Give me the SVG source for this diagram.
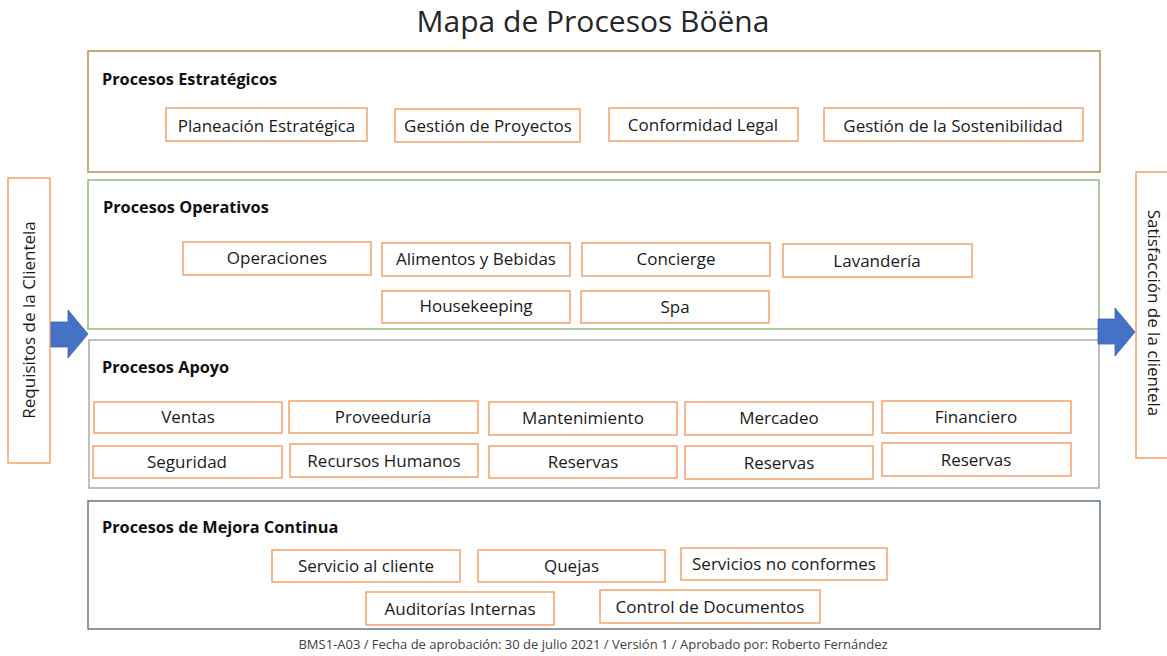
<svg xmlns="http://www.w3.org/2000/svg" width="1167" height="656" viewBox="0 0 1167 656">
<style>
  text { font-family: "Open Sans", "Noto Sans", "Liberation Sans", sans-serif; fill: #1a1a1a; }
  .title { font-size: 30px; text-anchor: middle; fill: #262626; }
  .head { font-size: 16.3px; font-weight: bold; fill: #111; }
  .lbl { font-size: 17px; text-anchor: middle; }
  .side { font-size: 17px; text-anchor: middle; }
  .foot { font-size: 13px; text-anchor: middle; fill: #404040; }
  .box { fill: #ffffff; stroke: #F29B5F; stroke-width: 1.4; }
  .sec { fill: #ffffff; stroke-width: 1.4; }
  .arrow { fill: #4472C4; stroke: #3A63AD; stroke-width: 0.8; }
</style>
<rect x="0" y="0" width="1167" height="656" fill="#ffffff"/>
<text class="title" x="593" y="32">Mapa de Procesos Böëna</text>

<g id="sec-estrategicos">
  <rect class="sec" x="88" y="51" width="1012" height="121" stroke="#A68A3E"/>
  <text class="head" x="102" y="85">Procesos Estratégicos</text>
</g>
<g id="sec-operativos">
  <rect class="sec" x="88" y="180" width="1011" height="149" stroke="#8FB471"/>
  <text class="head" x="103" y="213">Procesos Operativos</text>
</g>
<g id="sec-apoyo">
  <rect class="sec" x="89" y="340" width="1010" height="148" stroke="#A6A6A6"/>
  <text class="head" x="102" y="373">Procesos Apoyo</text>
</g>
<g id="sec-mejora">
  <rect class="sec" x="88" y="501" width="1012" height="128" stroke="#5B6B82"/>
  <text class="head" x="102" y="533">Procesos de Mejora Continua</text>
</g>

<g id="requisitos">
  <rect class="box" x="8" y="178" width="42" height="285"/>
  <text class="side" transform="translate(35,320) rotate(-90)">Requisitos de la Clientela</text>
</g>
<g id="satisfaccion">
  <rect class="box" x="1136" y="172" width="40" height="286"/>
  <text class="side" transform="translate(1148,313) rotate(90)">Satisfacción de la clientela</text>
</g>

<g id="connectors">
  <path class="arrow" d="M51,322 L68,322 L68,310 L88,334 L68,358 L68,347 L51,347 Z"/>
  <path class="arrow" d="M1098,319 L1115,319 L1115,308 L1135,332 L1115,356 L1115,344 L1098,344 Z"/>
</g>

<g id="n-planeacion"><rect class="box" x="166" y="108" width="201" height="33"/><text class="lbl" x="266.5" y="132">Planeación Estratégica</text></g>
<g id="n-proyectos"><rect class="box" x="395" y="109" width="185" height="33"/><text class="lbl" x="488" y="132">Gestión de Proyectos</text></g>
<g id="n-conformidad"><rect class="box" x="609" y="108" width="189" height="33"/><text class="lbl" x="703" y="131">Conformidad Legal</text></g>
<g id="n-sostenibilidad"><rect class="box" x="824" y="108" width="259" height="33"/><text class="lbl" x="953" y="132">Gestión de la Sostenibilidad</text></g>

<g id="n-operaciones"><rect class="box" x="183" y="242" width="188" height="33"/><text class="lbl" x="277" y="264">Operaciones</text></g>
<g id="n-alimentos"><rect class="box" x="382" y="243" width="188" height="33"/><text class="lbl" x="476" y="265">Alimentos y Bebidas</text></g>
<g id="n-concierge"><rect class="box" x="582" y="243" width="188" height="33"/><text class="lbl" x="676" y="265">Concierge</text></g>
<g id="n-lavanderia"><rect class="box" x="783" y="244" width="189" height="33"/><text class="lbl" x="877" y="267">Lavandería</text></g>
<g id="n-housekeeping"><rect class="box" x="382" y="291" width="188" height="32"/><text class="lbl" x="476" y="312">Housekeeping</text></g>
<g id="n-spa"><rect class="box" x="581" y="291" width="188" height="32"/><text class="lbl" x="675" y="313">Spa</text></g>

<g id="n-ventas"><rect class="box" x="94" y="402" width="188" height="31"/><text class="lbl" x="188" y="423">Ventas</text></g>
<g id="n-proveeduria"><rect class="box" x="289" y="401" width="189" height="32"/><text class="lbl" x="383" y="423">Proveeduría</text></g>
<g id="n-mantenimiento"><rect class="box" x="489" y="402" width="188" height="33"/><text class="lbl" x="583" y="424">Mantenimiento</text></g>
<g id="n-mercadeo"><rect class="box" x="685" y="402" width="188" height="33"/><text class="lbl" x="779" y="424">Mercadeo</text></g>
<g id="n-financiero"><rect class="box" x="882" y="401" width="189" height="32"/><text class="lbl" x="976" y="423">Financiero</text></g>
<g id="n-seguridad"><rect class="box" x="93" y="446" width="189" height="32"/><text class="lbl" x="187" y="468">Seguridad</text></g>
<g id="n-rrhh"><rect class="box" x="290" y="444" width="188" height="33"/><text class="lbl" x="384" y="467">Recursos Humanos</text></g>
<g id="n-reservas1"><rect class="box" x="489" y="446" width="188" height="32"/><text class="lbl" x="583" y="468">Reservas</text></g>
<g id="n-reservas2"><rect class="box" x="685" y="446" width="188" height="33"/><text class="lbl" x="779" y="469">Reservas</text></g>
<g id="n-reservas3"><rect class="box" x="882" y="443" width="189" height="33"/><text class="lbl" x="976" y="466">Reservas</text></g>

<g id="n-servicio"><rect class="box" x="272" y="550" width="188" height="32"/><text class="lbl" x="366" y="572">Servicio al cliente</text></g>
<g id="n-quejas"><rect class="box" x="478" y="550" width="187" height="32"/><text class="lbl" x="571.5" y="572">Quejas</text></g>
<g id="n-noconformes"><rect class="box" x="681" y="548" width="206" height="32"/><text class="lbl" x="784" y="570">Servicios no conformes</text></g>
<g id="n-auditorias"><rect class="box" x="366" y="592" width="188" height="33"/><text class="lbl" x="460" y="615">Auditorías Internas</text></g>
<g id="n-documentos"><rect class="box" x="600" y="590" width="220" height="33"/><text class="lbl" x="710" y="613">Control de Documentos</text></g>

<text class="foot" x="593" y="649">BMS1-A03 / Fecha de aprobación: 30 de julio 2021 / Versión 1 / Aprobado por: Roberto Fernández</text>
</svg>
